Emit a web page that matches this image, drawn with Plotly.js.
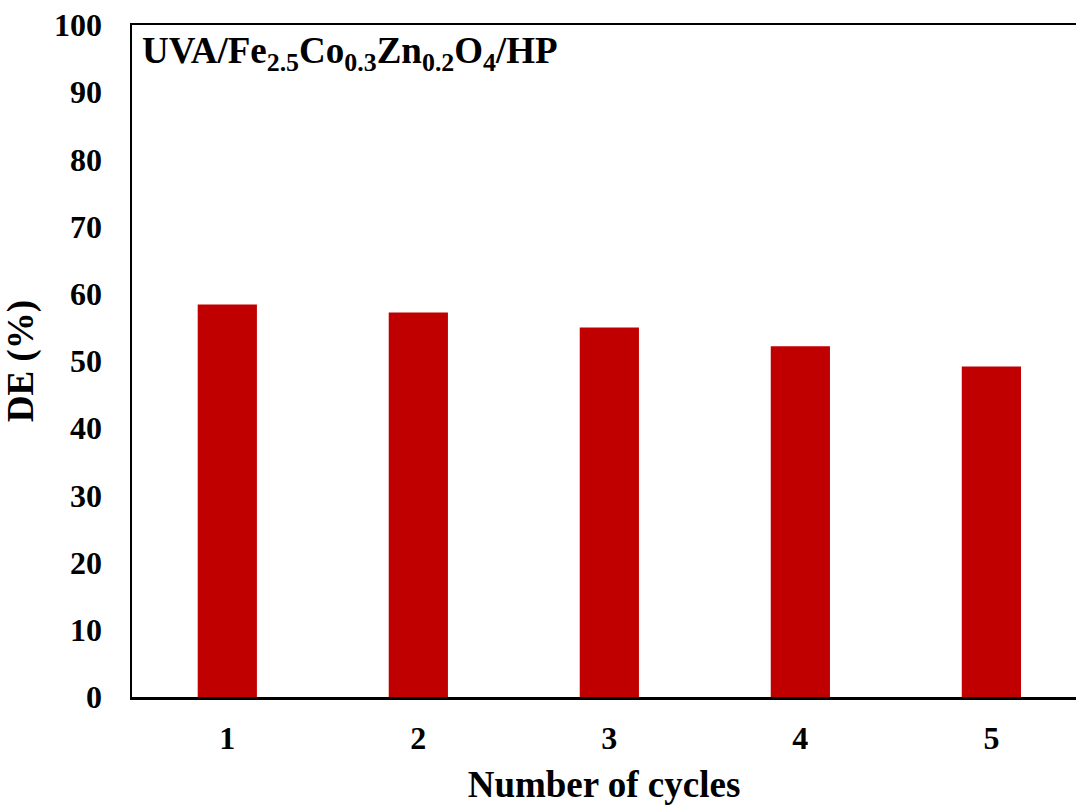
<!DOCTYPE html>
<html>
<head>
<meta charset="utf-8">
<script src="https://cdn.plot.ly/plotly-3.0.1.min.js"></script>
<style>html,body{margin:0;padding:0;background:#fff;}#chart{width:1076px;height:805px;}</style>
</head>
<body>
<div id="chart"></div>
<script>
const cycles = [1, 2, 3, 4, 5];
const tickLabels = ["1", "2", "3", "4", "5"];
const deValues = [58.4, 57.2, 55.0, 52.2, 49.2];
const panelLabel = "UVA/Fe<sub>2.5</sub>Co<sub>0.3</sub>Zn<sub>0.2</sub>O<sub>4</sub>/HP";

const font = "Liberation Serif";

Plotly.newPlot("chart", [{
  type: "bar",
  x: cycles,
  y: deValues,
  width: 0.31,
  marker: {color: "#C00000", line: {width: 0}},
  hoverinfo: "x+y"
}], {
  width: 1076, height: 805,
  margin: {l: 132, r: 0, t: 25, b: 108},
  paper_bgcolor: "#fff", plot_bgcolor: "#fff",
  showlegend: false,
  font: {family: font, color: "#000"},
  xaxis: {
    range: [0.501, 5.443],
    tickvals: cycles, ticktext: tickLabels,
    ticks: "", showgrid: false, zeroline: false,
    showline: true, linecolor: "#000", linewidth: 2.5, mirror: true,
    tickfont: {family: font, size: 32, color: "#000", weight: "bold"},
    ticklabelstandoff: 11,
    title: {text: "<b>Number of cycles</b>", font: {family: font, size: 37, color: "#000"}, standoff: 16}
  },
  yaxis: {
    range: [0, 100], dtick: 10,
    ticks: "", showgrid: false, zeroline: false,
    showline: true, linecolor: "#000", linewidth: 2.5,
    tickfont: {family: font, size: 32, color: "#000", weight: "bold"},
    ticklabelstandoff: 21,
    title: {text: "<b>DE (%)</b>", font: {family: font, size: 37, color: "#000"}, standoff: 12}
  },
  annotations: [{
    xref: "paper", yref: "paper", x: 0.008, y: 0.995,
    xanchor: "left", yanchor: "top", showarrow: false,
    text: "<b>" + panelLabel + "</b>",
    font: {family: font, size: 37, color: "#000"}
  }]
}, {displayModeBar: false, staticPlot: true});
</script>
</body>
</html>
